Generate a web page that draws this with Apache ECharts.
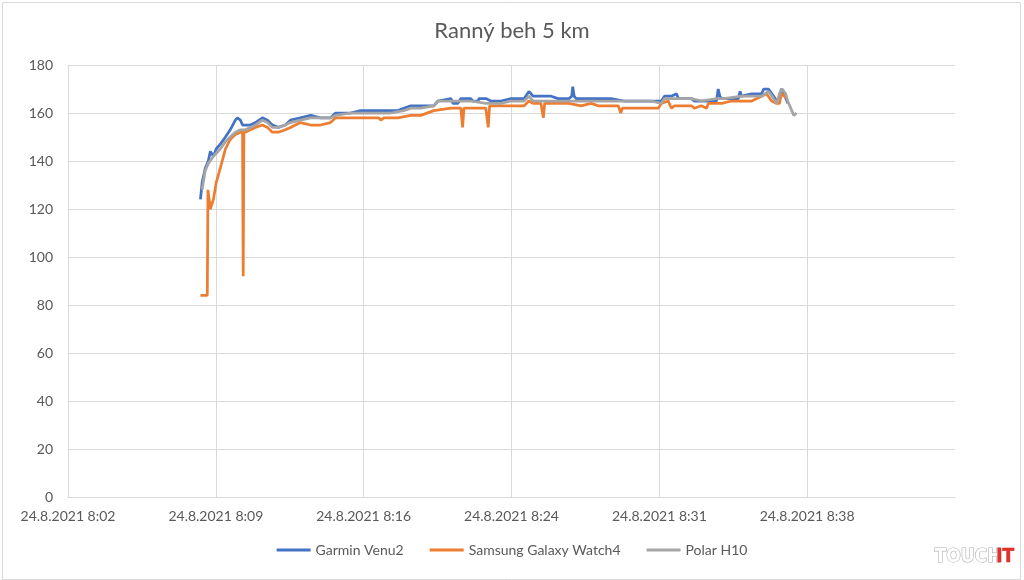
<!DOCTYPE html>
<html>
<head>
<meta charset="utf-8">
<script src="https://cdn.jsdelivr.net/npm/echarts@6/dist/echarts.min.js"></script>
<style>
html,body{margin:0;padding:0;background:#fff;}
#chart{width:1024px;height:580px;}
</style>
</head>
<body>
<div id="chart"></div>
<script>
// ---- Data ----
const chartTitle = 'Ranný beh 5 km';
const seriesNames = ['Garmin Venu2', 'Samsung Galaxy Watch4', 'Polar H10'];
const yTicks = [0, 20, 40, 60, 80, 100, 120, 140, 160, 180];
const xTickLabels = ['24.8.2021 8:02', '24.8.2021 8:09', '24.8.2021 8:16', '24.8.2021 8:24', '24.8.2021 8:31', '24.8.2021 8:38'];

const garminTimes = ['8:08:51','8:08:56','8:09:05','8:09:14','8:09:20','8:09:29','8:09:37','8:09:49','8:10:04','8:10:18','8:10:33','8:10:39','8:10:48','8:10:54','8:11:02','8:11:17','8:11:32','8:11:52','8:12:07','8:12:21','8:12:39','8:12:59','8:13:14','8:13:43','8:14:13','8:14:42','8:15:11','8:15:26','8:15:41','8:16:10','8:16:39','8:17:09','8:17:38','8:18:07','8:18:28','8:18:45','8:19:06','8:19:35','8:20:13','8:20:25','8:21:03','8:21:09','8:21:23','8:21:32','8:22:01','8:22:07','8:22:22','8:22:25','8:22:45','8:23:00','8:23:29','8:23:59','8:24:37','8:24:51','8:25:03','8:25:26','8:25:56','8:26:16','8:26:48','8:26:56','8:26:59','8:27:03','8:27:09','8:27:23','8:27:53','8:28:22','8:28:51','8:29:29','8:30:19','8:31:09','8:31:18','8:31:27','8:31:47','8:32:02','8:32:08','8:32:46','8:32:54','8:33:15','8:33:59','8:34:04','8:34:09','8:34:14','8:34:43','8:35:03','8:35:08','8:35:12','8:35:42','8:36:11','8:36:17','8:36:31','8:36:46','8:36:55','8:37:01','8:37:09','8:37:18','8:37:27'];
const garminHR = [124,131,137,140,144,142,145,147,150,153,157,158,157,155,155,155,156,158,157,155,154,155,157,158,159,158,158,160,160,160,161,161,161,161,161,162,163,163,163,165,166,164,164,166,166,165,165,166,166,165,165,166,166,169,167,167,167,166,166,167,171,167,166,166,166,166,166,165,165,165,165,167,167,168,166,166,165,165,165,170,167,166,166,166,169,167,168,168,170,170,167,165,166,170,168,164];

const samsungTimes = ['8:08:51','8:09:11','8:09:13','8:09:14','8:09:20','8:09:29','8:09:37','8:09:49','8:10:04','8:10:18','8:10:33','8:10:48','8:10:54','8:10:56','8:10:58','8:11:02','8:11:17','8:11:32','8:11:52','8:12:07','8:12:21','8:12:39','8:12:59','8:13:14','8:13:43','8:14:13','8:14:42','8:15:11','8:15:26','8:16:10','8:16:39','8:17:09','8:17:32','8:17:38','8:17:47','8:18:07','8:18:28','8:19:06','8:19:35','8:20:13','8:21:03','8:21:32','8:21:37','8:21:41','8:22:01','8:22:45','8:22:52','8:22:56','8:23:29','8:23:59','8:24:37','8:24:51','8:25:03','8:25:26','8:25:33','8:25:37','8:25:56','8:26:48','8:27:23','8:27:53','8:28:13','8:29:12','8:29:19','8:29:24','8:29:50','8:30:48','8:31:09','8:31:18','8:31:38','8:31:47','8:31:56','8:32:46','8:32:54','8:33:15','8:33:30','8:33:35','8:34:14','8:34:43','8:35:42','8:36:11','8:36:25','8:36:40','8:36:55','8:37:03','8:37:09','8:37:18','8:37:21'];
const samsungHR = [84,84,128,128,120,124,131,137,145,149,151,152,152,92,153,152,153,154,155,154,152,152,153,154,156,155,155,156,158,158,158,158,158,157,158,158,158,159,159,161,162,162,154,162,162,162,154,163,163,163,163,165,164,164,158,164,164,164,163,164,163,163,160,162,162,162,162,164,165,162,163,163,162,163,162,164,164,165,165,167,168,165,164,164,168,167,166];

const polarTimes = ['8:08:56','8:09:05','8:09:14','8:09:29','8:09:49','8:10:04','8:10:18','8:10:33','8:10:48','8:11:02','8:11:17','8:11:32','8:11:52','8:12:07','8:12:21','8:12:39','8:12:59','8:13:14','8:13:43','8:14:13','8:14:42','8:15:11','8:15:26','8:16:10','8:16:39','8:17:09','8:17:38','8:18:07','8:18:45','8:19:06','8:19:35','8:20:13','8:20:25','8:21:03','8:21:32','8:22:01','8:22:45','8:23:00','8:23:29','8:23:59','8:24:37','8:24:51','8:25:03','8:25:56','8:26:48','8:27:23','8:27:53','8:28:51','8:29:50','8:30:48','8:31:18','8:31:27','8:32:16','8:32:46','8:33:15','8:33:59','8:34:22','8:35:12','8:35:42','8:36:11','8:36:31','8:36:46','8:36:55','8:37:03','8:37:11','8:37:21','8:37:27','8:37:39','8:37:45','8:37:53'];
const polarHR = [128,136,139,142,145,148,150,152,153,153,154,155,157,156,154,154,155,156,157,158,158,158,159,160,160,160,160,160,161,162,162,163,165,165,165,165,164,164,164,165,165,167,165,165,165,165,165,165,165,165,164,166,166,166,165,166,166,167,167,167,169,166,164,168,170,168,165,161,159,160];

// x axis range (seconds since midnight), one tick every 7.2 minutes
const xMin = 28944;      // 8:02:24
const xInterval = 432;   // 7.2 min
const xMax = 31536;      // 8:45:36

function toSec(s) {
  const p = s.split(':').map(Number);
  return p[0] * 3600 + p[1] * 60 + p[2];
}
function pairs(times, vals) {
  return times.map((t, i) => [toSec(t), vals[i]]);
}

const colors = ['#4472C4', '#ED7D31', '#A5A5A5'];
const FONT = 'Lato, "Open Sans", sans-serif';
const TXT = '#595959';

const chart = echarts.init(document.getElementById('chart'), null, {renderer: 'canvas'});
chart.setOption({
  animation: false,
  backgroundColor: '#fff',
  color: colors,
  title: {
    text: chartTitle,
    left: 'center',
    top: 15,
    textStyle: {fontFamily: FONT, fontSize: 22, fontWeight: 'normal', color: TXT}
  },
  grid: {left: 68, right: 69, top: 65, bottom: 83, containLabel: false},
  legend: {
    bottom: 18,
    left: 'center',
    itemGap: 26,
    itemWidth: 34,
    itemHeight: 3,
    icon: 'rect',
    data: seriesNames,
    textStyle: {fontFamily: FONT, fontSize: 14, color: TXT}
  },
  xAxis: {
    type: 'value',
    min: xMin,
    max: xMax,
    interval: xInterval,
    axisLine: {show: true, onZero: false, lineStyle: {color: '#d9d9d9', width: 1}},
    axisTick: {show: false},
    splitLine: {show: true, showMaxLine: false, lineStyle: {color: '#d9d9d9', width: 1}},
    axisLabel: {
      margin: 12,
      showMaxLabel: false,
      fontFamily: FONT, fontSize: 14, color: TXT,
      formatter: function (v) {
        const idx = Math.round((v - xMin) / xInterval);
        return xTickLabels[idx] !== undefined ? xTickLabels[idx] : '';
      }
    }
  },
  yAxis: {
    type: 'value',
    min: yTicks[0],
    max: yTicks[yTicks.length - 1],
    interval: yTicks[1] - yTicks[0],
    axisLine: {show: false},
    axisTick: {show: false},
    splitLine: {show: true, lineStyle: {color: '#d9d9d9', width: 1}},
    axisLabel: {margin: 15, fontFamily: FONT, fontSize: 14, color: TXT}
  },
  series: [
    {name: seriesNames[0], type: 'line', data: pairs(garminTimes, garminHR), symbol: 'none', lineStyle: {width: 2.75, color: colors[0]}, z: 2},
    {name: seriesNames[1], type: 'line', data: pairs(samsungTimes, samsungHR), symbol: 'none', lineStyle: {width: 2.75, color: colors[1]}, z: 3},
    {name: seriesNames[2], type: 'line', data: pairs(polarTimes, polarHR), symbol: 'none', lineStyle: {width: 2.75, color: colors[2]}, z: 4}
  ],
  graphic: [
    {type: 'rect', left: 0, top: 0, shape: {x: 0.5, y: 0.5, width: 1018, height: 577}, style: {fill: 'none', stroke: '#d9d9d9', lineWidth: 1}, silent: true},
    {type: 'text', left: 934, top: 547, style: {text: 'TOUCH', font: 'bold 19px "DejaVu Sans Condensed", "DejaVu Sans", sans-serif', fill: '#ffffff', stroke: '#b0b0b0', lineWidth: 1.2}},
    {type: 'text', left: 996, top: 547, style: {text: 'IT', font: 'bold 19px "DejaVu Sans Condensed", "DejaVu Sans", sans-serif', fill: '#e2312b', stroke: '#c02020', lineWidth: 0.5}}
  ]
});
</script>
</body>
</html>
